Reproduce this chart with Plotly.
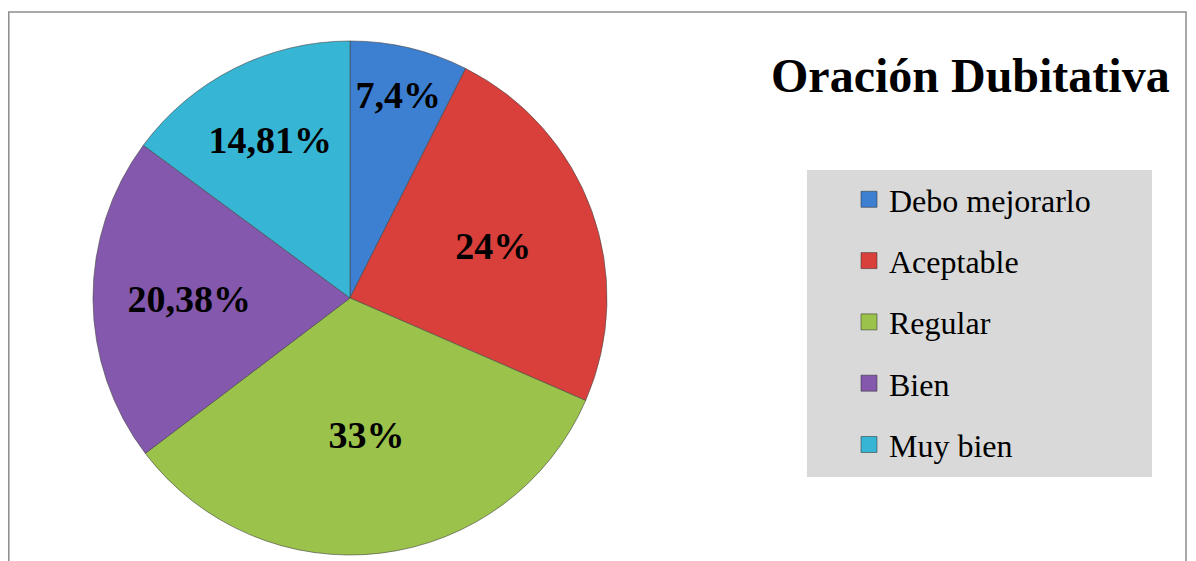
import plotly.graph_objects as go

categories = ["Debo mejorarlo", "Aceptable", "Regular", "Bien", "Muy bien"]
values = [7.4, 24, 33, 20.38, 14.81]
label_text = ["7,4%", "24%", "33%", "20,38%", "14,81%"]
colors = ["#3d7fd1", "#d9403c", "#9bc24a", "#8459ad", "#37b5d4"]

OFF = 8  # page body margin
W, H = 1196 - OFF, 561 - OFF


def px(x):
    return (x - OFF) / W


def py(y):
    return 1 - (y - OFF) / H


fig = go.Figure()
fig.add_trace(go.Pie(
    labels=categories, values=values, text=label_text,
    textinfo="text", textposition="inside", insidetextorientation="horizontal",
    sort=False, direction="clockwise", rotation=0,
    marker=dict(colors=colors, line=dict(color="rgba(70,70,70,0.6)", width=1)),
    textfont=dict(family="Liberation Serif", size=38, color="black", weight="bold"),
    showlegend=False,
    domain=dict(x=[px(350 - 257), px(350 + 257)], y=[py(555), py(41)]),
    hoverinfo="label+percent",
))

# legend entries (one per category, drawn by plotly's legend)
for i, (c, col) in enumerate(zip(categories, colors)):
    fig.add_trace(go.Scatter(
        x=[None], y=[None], mode="markers", name=c, legendgroup=f"g{i}",
        marker=dict(symbol="square", size=16, color=col,
                    line=dict(color="rgba(40,40,40,0.5)", width=1)),
        hoverinfo="skip",
    ))

fig.update_layout(
    width=W, height=H,
    margin=dict(l=0, r=0, t=0, b=0),
    paper_bgcolor="white", plot_bgcolor="white",
    xaxis=dict(visible=False), yaxis=dict(visible=False),
    showlegend=True,
    legend=dict(
        x=px(849), y=py(172), xanchor="left", yanchor="top",
        bgcolor="rgba(0,0,0,0)", borderwidth=0,
        font=dict(family="Liberation Serif", size=32, color="black"),
        tracegroupgap=16.7, itemclick=False, itemdoubleclick=False,
    ),
    shapes=[
        dict(type="rect", xref="paper", yref="paper",
             x0=px(8.8), x1=px(1186), y0=-0.05, y1=py(12),
             line=dict(color="#8c8c8c", width=1.5), fillcolor="rgba(0,0,0,0)",
             layer="below"),
        dict(type="rect", xref="paper", yref="paper",
             x0=px(807), x1=px(1152), y0=py(477), y1=py(170),
             line=dict(width=0), fillcolor="#d9d9d9", layer="below"),
    ],
    annotations=[
        dict(text="<b>Oración Dubitativa</b>", xref="paper", yref="paper",
             x=px(970), y=py(75), xanchor="center", yanchor="middle",
             showarrow=False,
             font=dict(family="Liberation Serif", size=48, color="black")),
    ],
)

fig.write_html("out.html")
